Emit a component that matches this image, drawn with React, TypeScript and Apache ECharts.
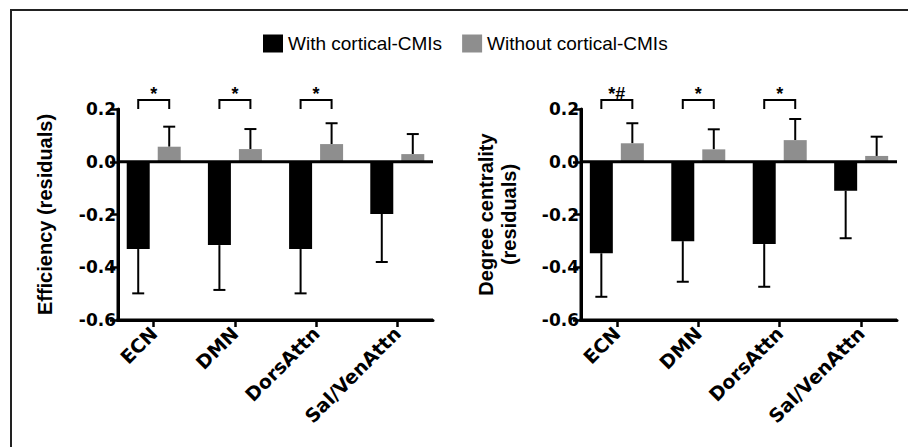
import React, { useEffect, useRef } from 'react';
import * as echarts from 'echarts';

const categories = ['ECN', 'DMN', 'DorsAttn', 'Sal/VenAttn'];
const legendNames = ['With cortical-CMIs', 'Without cortical-CMIs'];

const effWithMean = [-0.331, -0.316, -0.331, -0.198];
const effWithErr = [0.168, 0.17, 0.168, 0.182];
const effWithoutMean = [0.057, 0.048, 0.067, 0.029];
const effWithoutErr = [0.076, 0.076, 0.079, 0.076];
const effSig = ['*', '*', '*', ''];

const degWithMean = [-0.347, -0.301, -0.312, -0.11];
const degWithErr = [0.165, 0.154, 0.162, 0.18];
const degWithoutMean = [0.07, 0.047, 0.082, 0.022];
const degWithoutErr = [0.076, 0.076, 0.08, 0.073];
const degSig = ['*#', '*', '*', ''];

const yMin = -0.6;
const yMax = 0.2;
const yStep = 0.2;
const xMin = -0.44;
const xMax = 3.44;
const bracketLow = 0.2;
const bracketHigh = 0.234;

const FONT = 'Liberation Sans, Arial, Helvetica, sans-serif';
const LABEL_FONT = 'DejaVu Sans, Verdana, sans-serif';
const BLACK = '#000000';
const GRAY = '#8e8e8e';
const BAR_OFFSET = 15.5;
const BAR_HALF = 11.5;
const CAP_HALF = 6;

function barRender(offset: number, color: string) {
  return (params: any, api: any) => {
    const i = api.value(0);
    const m = api.value(1);
    const e = api.value(2);
    const p0 = api.coord([i, 0]);
    const p1 = api.coord([i, m]);
    const p2 = api.coord([i, m + Math.sign(m) * e]);
    const cx = p0[0] + offset;
    return {
      type: 'group',
      children: [
        {
          type: 'line',
          shape: { x1: cx, y1: p1[1], x2: cx, y2: p2[1] },
          style: { stroke: BLACK, lineWidth: 2 },
        },
        {
          type: 'line',
          shape: { x1: cx - CAP_HALF, y1: p2[1], x2: cx + CAP_HALF, y2: p2[1] },
          style: { stroke: BLACK, lineWidth: 2 },
        },
        {
          type: 'rect',
          shape: {
            x: cx - BAR_HALF,
            y: Math.min(p0[1], p1[1]),
            width: BAR_HALF * 2,
            height: Math.abs(p1[1] - p0[1]),
          },
          style: { fill: color },
        },
      ],
    };
  };
}

function bracketRender(labels: string[]) {
  return (params: any, api: any) => {
    const lab = labels[params.dataIndex];
    if (!lab) return null;
    const i = api.value(0);
    const pLow = api.coord([i, api.value(1)]);
    const pHigh = api.coord([i, api.value(2)]);
    const xl = pLow[0] - BAR_OFFSET;
    const xr = pLow[0] + BAR_OFFSET;
    return {
      type: 'group',
      children: [
        {
          type: 'polyline',
          shape: {
            points: [
              [xl, pLow[1]],
              [xl, pHigh[1]],
              [xr, pHigh[1]],
              [xr, pLow[1]],
            ],
          },
          style: { stroke: BLACK, lineWidth: 2, fill: 'none' },
        },
        {
          type: 'text',
          x: pLow[0],
          y: pHigh[1] + 3,
          style: {
            text: lab,
            fill: BLACK,
            font: 'bold 18px ' + FONT,
            textAlign: 'center',
            textVerticalAlign: 'bottom',
          },
        },
      ],
    };
  };
}

// Left and bottom axis lines plus the zero line, drawn from the axis scales.
function frameRender(params: any, api: any) {
  const tl = api.coord([xMin, yMax]);
  const bl = api.coord([xMin, yMin]);
  const br = api.coord([xMax, yMin]);
  const z0 = api.coord([xMin, 0]);
  const z1 = api.coord([xMax, 0]);
  const w = 3;
  return {
    type: 'group',
    children: [
      {
        type: 'rect',
        shape: { x: tl[0] - w / 2, y: tl[1] - 1, width: w, height: bl[1] - tl[1] + 1 + w / 2 },
        style: { fill: BLACK },
      },
      {
        type: 'rect',
        shape: { x: bl[0] - w / 2, y: bl[1] - w / 2, width: br[0] - bl[0] + w / 2, height: w },
        style: { fill: BLACK },
      },
      {
        type: 'rect',
        shape: { x: z0[0], y: z0[1] - w / 2, width: z1[0] - z0[0], height: w },
        style: { fill: BLACK },
      },
    ],
  };
}

function makeData(mean: number[], err: number[]) {
  return mean.map((m, i) => [i, m, err[i]]);
}

function panelSeries(
  idx: number,
  withMean: number[],
  withErr: number[],
  withoutMean: number[],
  withoutErr: number[],
  sig: string[]
) {
  return [
    {
      type: 'custom',
      name: legendNames[0],
      xAxisIndex: idx,
      yAxisIndex: idx,
      itemStyle: { color: BLACK },
      encode: { x: 0, y: 1 },
      clip: false,
      z: 2,
      data: makeData(withMean, withErr),
      renderItem: barRender(-BAR_OFFSET, BLACK),
    },
    {
      type: 'custom',
      name: legendNames[1],
      xAxisIndex: idx,
      yAxisIndex: idx,
      itemStyle: { color: GRAY },
      encode: { x: 0, y: 1 },
      clip: false,
      z: 2,
      data: makeData(withoutMean, withoutErr),
      renderItem: barRender(BAR_OFFSET, GRAY),
    },
    {
      type: 'custom',
      xAxisIndex: idx,
      yAxisIndex: idx,
      encode: { x: 0, y: 1 },
      clip: false,
      z: 3,
      silent: true,
      data: categories.map((_, i) => [i, bracketLow, bracketHigh]),
      renderItem: bracketRender(sig),
    },
    {
      type: 'custom',
      xAxisIndex: idx,
      yAxisIndex: idx,
      encode: { x: 0, y: 1 },
      clip: false,
      z: 100,
      silent: true,
      data: [[1, -0.2]],
      renderItem: frameRender,
    },
  ];
}

function xAxisOf(idx: number) {
  return {
    type: 'value',
    gridIndex: idx,
    min: xMin,
    max: xMax,
    splitLine: { show: false },
    axisLine: { show: true, onZero: false, lineStyle: { color: BLACK, width: 3 } },
    axisTick: {
      show: true,
      customValues: [0, 1, 2, 3],
      length: 7,
      lineStyle: { color: BLACK, width: 2.5 },
    },
    axisLabel: {
      show: true,
      customValues: [0, 1, 2, 3],
      formatter: (v: number) => categories[Math.round(v)] ?? '',
      rotate: 45,
      margin: 10,
      color: BLACK,
      fontWeight: 'bold',
      fontSize: 19,
      fontFamily: LABEL_FONT,
    },
  };
}

function yAxisOf(idx: number, name: string, gap: number) {
  return {
    type: 'value',
    gridIndex: idx,
    min: yMin,
    max: yMax,
    interval: yStep,
    name,
    nameLocation: 'middle',
    nameGap: gap,
    nameRotate: 90,
    nameTextStyle: {
      color: BLACK,
      fontWeight: 'bold',
      fontSize: 20,
      fontFamily: FONT,
      lineHeight: 23,
    },
    splitLine: { show: false },
    axisLine: { show: true, onZero: false, lineStyle: { color: BLACK, width: 3 } },
    axisTick: { show: true, length: 8, lineStyle: { color: BLACK, width: 2.5 } },
    axisLabel: {
      color: BLACK,
      fontWeight: 'bold',
      fontSize: 17,
      fontFamily: LABEL_FONT,
      margin: 2,
      formatter: (v: number) => (Math.abs(v) < 1e-9 ? '0.0' : v.toFixed(1)),
    },
  };
}

export default function App() {
  const ref = useRef<HTMLDivElement>(null);
  useEffect(() => {
    if (!ref.current) return;
    const chart = echarts.init(ref.current, undefined, { renderer: 'svg' });
    chart.setOption({
      animation: false,
      backgroundColor: '#ffffff',
      legend: {
        left: 263,
        top: 34,
        padding: 0,
        itemWidth: 20,
        itemHeight: 18,
        itemGap: 20,
        textStyle: { color: BLACK, fontSize: 19, fontFamily: FONT },
        data: [
          { name: legendNames[0], icon: 'rect', itemStyle: { color: BLACK } },
          { name: legendNames[1], icon: 'rect', itemStyle: { color: GRAY } },
        ],
        selectedMode: false,
      },
      graphic: [
        {
          type: 'rect',
          shape: { x: 10, y: 9, width: 898, height: 2 },
          style: { fill: '#222222' },
        },
        {
          type: 'rect',
          shape: { x: 10, y: 9, width: 2, height: 438 },
          style: { fill: '#222222' },
        },
      ],
      grid: [
        { left: 118, top: 109, width: 315, height: 211 },
        { left: 581, top: 109, width: 316, height: 211 },
      ],
      xAxis: [xAxisOf(0), xAxisOf(1)],
      yAxis: [
        yAxisOf(0, 'Efficiency (residuals)', 62),
        yAxisOf(1, 'Degree centrality\n(residuals)', 61),
      ],
      series: [
        ...panelSeries(0, effWithMean, effWithErr, effWithoutMean, effWithoutErr, effSig),
        ...panelSeries(1, degWithMean, degWithErr, degWithoutMean, degWithoutErr, degSig),
      ],
    } as any);
    return () => chart.dispose();
  }, []);
  return (
    <div
      ref={ref}
      style={{ position: 'absolute', left: 0, top: 0, width: 908, height: 447, background: '#fff' }}
    />
  );
}
